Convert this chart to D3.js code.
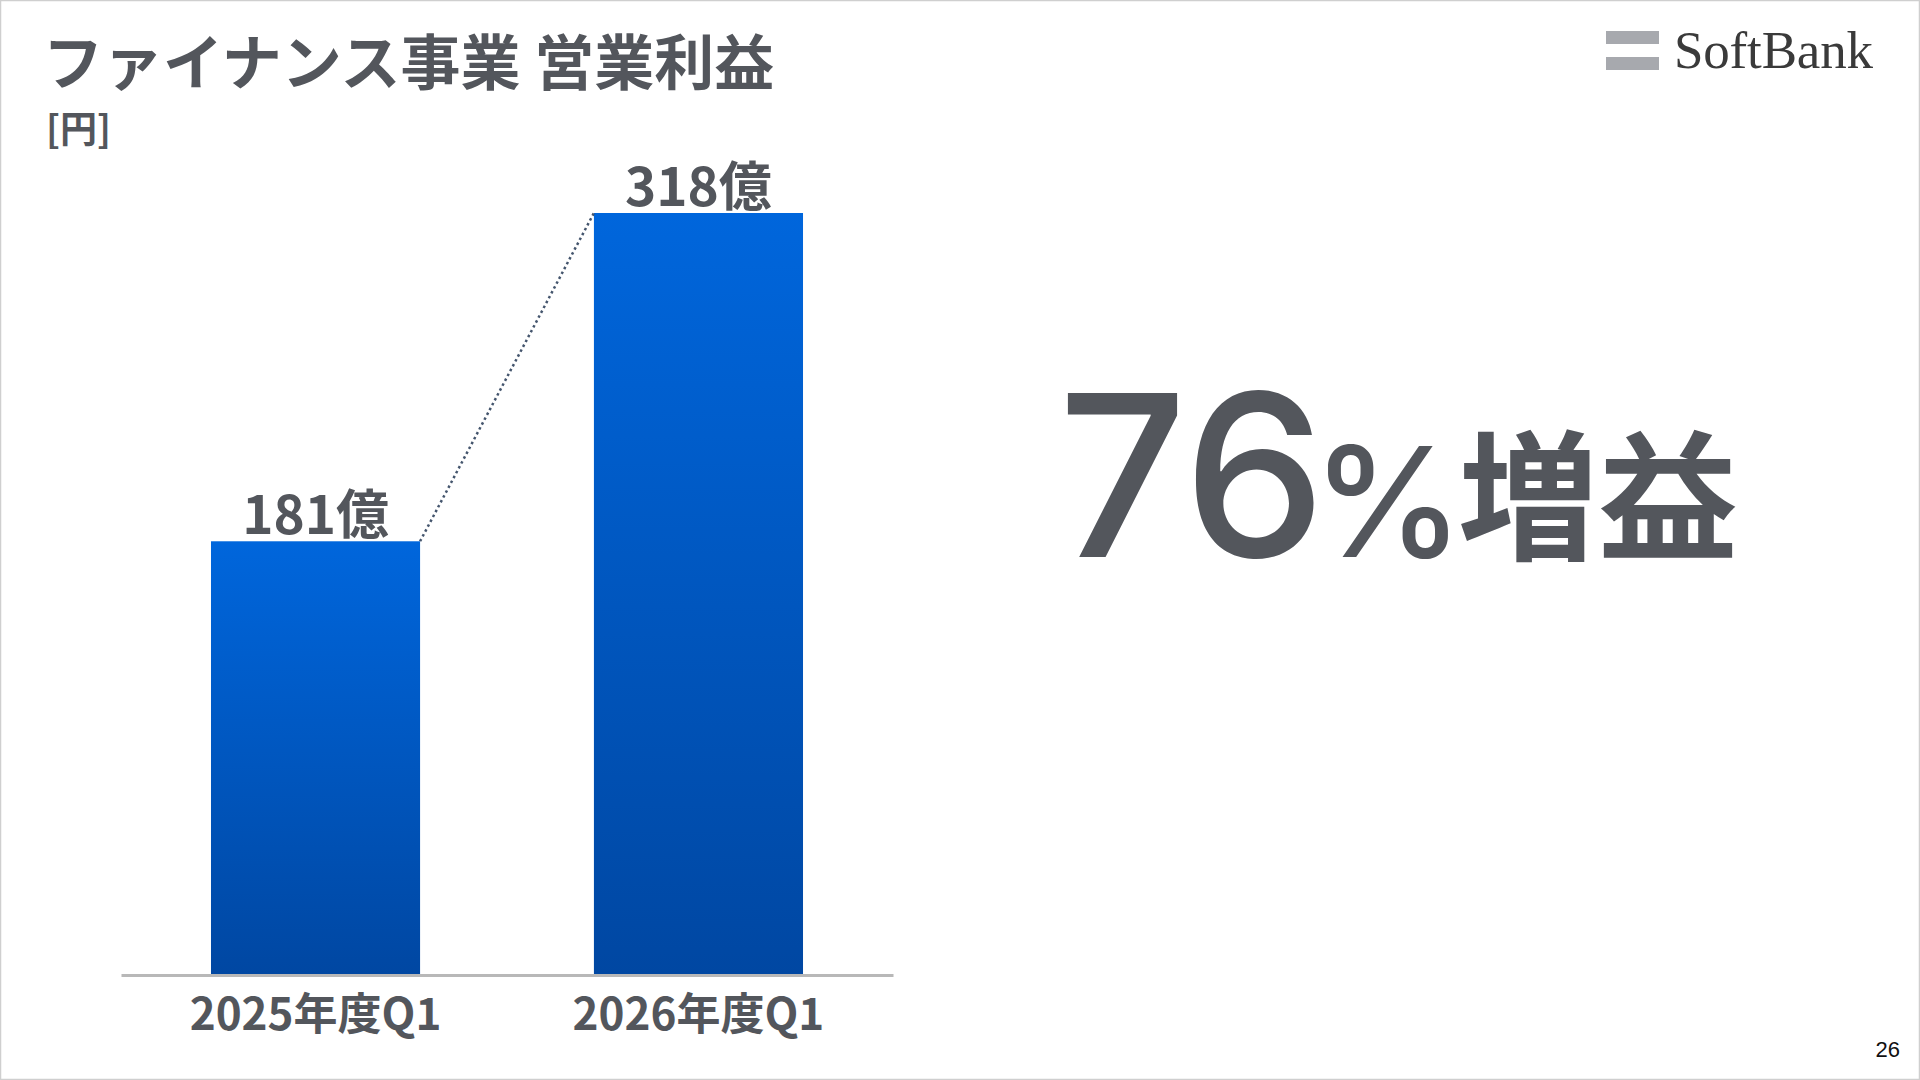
<!DOCTYPE html>
<html><head><meta charset="utf-8">
<script src="https://cdn.jsdelivr.net/npm/d3@7"></script>
<style>
html,body{margin:0;padding:0;background:#fff;}
svg{display:block;}
</style></head>
<body>
<svg id="chart" width="1920" height="1080"></svg>
<script>
const title = "ファイナンス事業 営業利益";
const unitLabel = "[円]";
const categories = ["2025年度Q1", "2026年度Q1"];
const values = [181, 318];
const valueLabels = ["181億", "318億"];
const highlight = ["76", "%", "増益"];
const pageNumber = "26";

const svg = d3.select("#chart");
const jp = "'Noto Sans CJK JP','Noto Sans',sans-serif";
const textColor = "#53565c";

// border
svg.append("rect").attr("x", 0.5).attr("y", 0.5).attr("width", 1919).attr("height", 1079)
  .attr("fill", "#fff").attr("stroke", "#cfcfcf").attr("stroke-width", 1.5);

// gradient
const defs = svg.append("defs");
const grad = defs.append("linearGradient").attr("id", "barGrad").attr("x1", 0).attr("y1", 0).attr("x2", 0).attr("y2", 1);
grad.append("stop").attr("offset", "0%").attr("stop-color", "#0066dc");
grad.append("stop").attr("offset", "100%").attr("stop-color", "#0047a2");

// title
svg.append("text").attr("x", 43).attr("y", 85).text(title)
  .attr("font-family", jp).attr("font-weight", 700).attr("font-size", 60).attr("fill", textColor);
svg.append("text").attr("x", 46).attr("y", 143).text(unitLabel)
  .attr("font-family", jp).attr("font-weight", 700).attr("font-size", 37).attr("fill", textColor);

// logo
const logo = svg.append("g");
logo.append("rect").attr("x", 1606).attr("y", 31).attr("width", 53).attr("height", 13).attr("fill", "#a7a9ae");
logo.append("rect").attr("x", 1606).attr("y", 57).attr("width", 53).attr("height", 13).attr("fill", "#a7a9ae");
logo.append("text").attr("x", 1674).attr("y", 68).text("SoftBank")
  .attr("font-family", "'Liberation Serif','DejaVu Serif',serif").attr("font-size", 53)
  .attr("textLength", 199).attr("fill", "#3a3a3a");

// scales
const x = d3.scaleBand().domain(categories).range([121, 893]).paddingInner(0.454).paddingOuter(0.235);
const y = d3.scaleLinear().domain([0, 318]).range([975, 213]);

// bars
svg.append("g").selectAll("rect").data(values).join("rect")
  .attr("x", (d, i) => x(categories[i]))
  .attr("y", d => y(d))
  .attr("width", x.bandwidth())
  .attr("height", d => y(0) - y(d))
  .attr("fill", "url(#barGrad)");

// connector dotted line
svg.append("line")
  .attr("x1", x(categories[0]) + x.bandwidth()).attr("y1", y(values[0]))
  .attr("x2", x(categories[1])).attr("y2", y(values[1]))
  .attr("stroke", "#44556d").attr("stroke-width", 2.5).attr("stroke-dasharray", "2.5,3");

// axis
const axis = svg.append("g").attr("transform", `translate(0,${y(0)})`)
  .call(d3.axisBottom(x).tickSize(0).tickPadding(0));
axis.select(".domain").attr("stroke", "#b8b8b8").attr("stroke-width", 3);
axis.selectAll(".tick text")
  .attr("y", 55).attr("dy", 0)
  .attr("font-family", jp).attr("font-weight", 700).attr("font-size", 44).attr("fill", textColor);

// value labels
svg.append("g").selectAll("text").data(values).join("text")
  .attr("x", (d, i) => x(categories[i]) + x.bandwidth() / 2)
  .attr("y", d => y(d) - 7)
  .attr("text-anchor", "middle")
  .text((d, i) => valueLabels[i])
  .attr("font-family", jp).attr("font-weight", 700).attr("font-size", 53).attr("fill", textColor);

// highlight text
const hl = svg.append("text").attr("x", 1058).attr("y", 557).attr("fill", textColor);
hl.append("tspan").text(highlight[0]).attr("font-family", "Inter,'Liberation Sans',Arial,sans-serif").attr("font-weight", 500).attr("font-size", 226);
hl.append("tspan").text(highlight[1]).attr("font-family", "Inter,'Liberation Sans',Arial,sans-serif").attr("font-weight", 500).attr("font-size", 153).attr("dx", -14);
hl.append("tspan").text(highlight[2]).attr("font-family", jp).attr("font-weight", 700).attr("font-size", 140).attr("dx", -6).attr("dy", -8);

// page number
svg.append("text").attr("x", 1900).attr("y", 1057).attr("text-anchor", "end").text(pageNumber)
  .attr("font-family", "'Liberation Sans',Arial,sans-serif").attr("font-size", 22).attr("fill", "#111");
</script>
</body></html>
